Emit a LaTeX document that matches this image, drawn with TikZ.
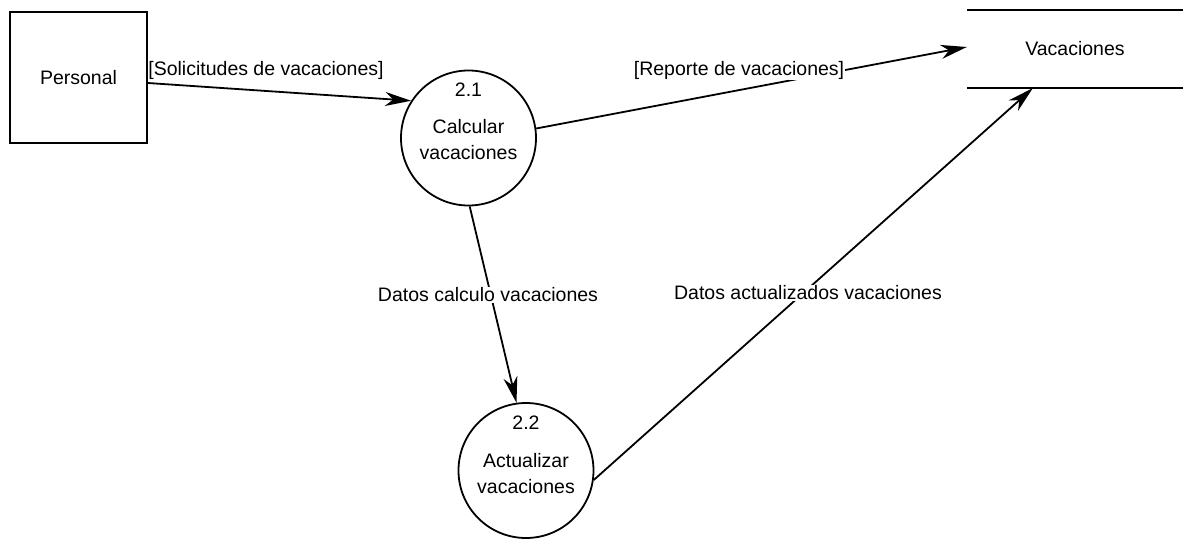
\documentclass[tikz,border=0pt]{standalone}
\usepackage{fontspec}
\setmainfont{Liberation Sans}
\usetikzlibrary{arrows.meta}
\begin{document}
\begin{tikzpicture}[x=1pt,y=-1pt,
  every node/.style={font=\fontsize{19.5}{22}\selectfont, inner sep=0pt},
  entity/.style={draw, line width=1.8pt, minimum width=137pt, minimum height=131pt},
  process/.style={draw, circle, line width=1.8pt, minimum size=135pt},
  flow/.style={line width=1.8pt, -{Stealth[length=26pt,width=14pt,inset=8pt]}},
  flowlabel/.style={fill=white, inner sep=1pt},
  storeline/.style={line width=1.8pt}]
  \useasboundingbox (0,0) rectangle (1183,539);

  % external entity
  \node[entity] (personal) at (78.5,77.5) {Personal};

  % processes
  \node[process] (p21) at (468.5,138) {};
  \node (p21num) at (468.5,90) {2.1};
  \node[align=center, font=\fontsize{19.5}{26}\selectfont] (p21txt) at (468.5,140) {Calcular\\vacaciones};

  \node[process] (p22) at (526,470.5) {};
  \node (p22num) at (526,423) {2.2};
  \node[align=center, font=\fontsize{19.5}{26}\selectfont] (p22txt) at (526,474) {Actualizar\\vacaciones};

  % data store
  \node[minimum width=216pt, minimum height=78pt] (store) at (1075,49) {Vacaciones};
  \draw[storeline] (store.north west) -- (store.north east);
  \draw[storeline] (store.south west) -- (store.south east);

  % data flows
  \draw[flow] ([yshift=-5.5pt]personal.east) -- (p21.147.5);
  \node (lsol) at (266,70) {[Solicitudes de vacaciones]};
  \draw[flow] (p21.8.4) -- ([yshift=2pt]store.west);
  \node[flowlabel] (lrep) at (739,70) {[Reporte de vacaciones]};
  \draw[flow] (p21.-89) -- (p22.98.5);
  \node[flowlabel] (lcalc) at (488,295) {Datos calculo vacaciones};
  \draw[flow] (p22.-8.5) -- ([xshift=66pt]store.south west);
  \node[flowlabel] (lact) at (808,293) {Datos actualizados vacaciones};
\end{tikzpicture}
\end{document}
